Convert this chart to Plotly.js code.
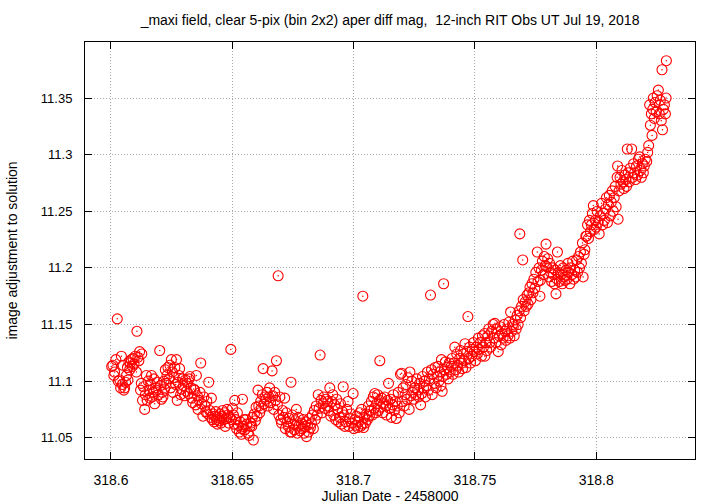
<!DOCTYPE html>
<html>
<head>
<meta charset="utf-8">
<script src="https://cdn.plot.ly/plotly-3.0.1.min.js"></script>
<style>html,body{margin:0;padding:0;background:#fff;}#chart{width:720px;height:504px;}</style>
</head>
<body>
<div id="chart"></div>
<script>
// Julian Date - 2458000
const jd = [
318.6003,318.6008,318.6012,318.6015,318.6020,318.6026,318.6030,318.6036,318.6040,318.6043,318.6047,318.6050,318.6053,318.6056,318.6060,318.6064,318.6068,318.6070,318.6074,318.6077,318.6080,318.6084,318.6088,318.6091,318.6095,318.6100,318.6105,318.6107,318.6111,318.6115,318.6118,318.6122,318.6125,318.6127,
318.6130,318.6134,318.6139,318.6142,318.6146,318.6149,318.6153,318.6157,318.6160,318.6164,318.6167,318.6170,318.6174,318.6177,318.6180,318.6184,318.6187,318.6191,318.6195,318.6201,318.6204,318.6208,318.6211,318.6214,318.6218,318.6221,318.6224,318.6227,318.6231,318.6235,318.6239,
318.6243,318.6246,318.6249,318.6253,318.6256,318.6260,318.6263,318.6267,318.6270,318.6273,318.6276,318.6280,318.6283,318.6287,318.6291,318.6295,318.6299,318.6303,318.6307,318.6311,318.6315,318.6319,318.6322,318.6325,318.6329,318.6333,318.6337,318.6341,318.6345,318.6349,318.6352,318.6356,318.6359,318.6363,318.6367,318.6370,318.6374,318.6379,318.6383,318.6387,318.6391,318.6395,318.6399,318.6403,318.6407,318.6411,318.6414,318.6418,318.6421,
318.6425,318.6428,318.6432,318.6435,318.6439,318.6443,318.6446,318.6450,318.6453,318.6457,318.6460,318.6464,318.6468,318.6471,318.6475,318.6479,318.6482,318.6486,318.6490,318.6494,318.6497,318.6501,318.6505,318.6508,318.6510,318.6514,318.6518,318.6521,318.6525,318.6529,318.6533,318.6537,318.6540,318.6542,318.6545,318.6549,318.6552,318.6556,318.6560,318.6565,318.6569,318.6573,318.6577,318.6580,318.6583,318.6587,318.6591,318.6595,318.6598,318.6602,318.6606,
318.6609,318.6613,318.6617,318.6620,318.6624,318.6627,318.6631,318.6635,318.6639,318.6643,318.6647,318.6651,318.6654,318.6658,318.6664,318.6667,318.6671,318.6675,318.6679,318.6682,318.6686,318.6689,318.6692,318.6696,318.6700,318.6703,318.6707,318.6711,318.6716,318.6719,318.6723,318.6727,318.6731,318.6735,318.6739,318.6742,318.6744,318.6748,318.6752,318.6756,318.6760,318.6764,318.6768,318.6772,318.6776,318.6780,318.6784,318.6788,318.6792,318.6796,318.6800,318.6803,318.6806,318.6810,318.6814,318.6818,318.6822,318.6826,318.6830,318.6834,318.6838,
318.6842,318.6846,318.6850,318.6854,318.6858,318.6862,318.6866,318.6870,318.6874,318.6878,318.6882,318.6886,318.6890,318.6894,318.6898,318.6902,318.6906,318.6910,318.6914,318.6918,318.6922,318.6926,318.6930,318.6934,318.6938,318.6942,318.6946,318.6950,318.6954,318.6957,318.6961,318.6964,318.6968,318.6972,318.6977,318.6981,318.6985,318.6989,318.6993,318.6998,318.7001,318.7005,318.7009,318.7013,318.7017,318.7021,318.7025,318.7029,318.7033,318.7036,
318.7038,318.7041,318.7045,318.7049,318.7053,318.7057,318.7061,318.7065,318.7069,318.7073,318.7077,318.7081,318.7085,318.7087,318.7091,318.7095,318.7099,318.7102,318.7106,318.7108,318.7112,318.7116,318.7120,318.7124,318.7128,318.7132,318.7136,318.7140,318.7144,318.7148,318.7152,318.7156,318.7160,318.7164,318.7168,318.7172,318.7176,318.7180,318.7184,318.7188,318.7193,318.7198,
318.7200,318.7204,318.7208,318.7212,318.7216,318.7220,318.7224,318.7229,318.7232,318.7236,318.7240,318.7244,318.7248,318.7252,318.7256,318.7260,318.7264,318.7268,318.7272,318.7276,318.7280,318.7284,318.7288,318.7292,318.7296,318.7300,318.7304,318.7308,318.7312,318.7317,318.7321,318.7324,318.7328,318.7332,318.7336,318.7340,318.7344,318.7348,318.7352,318.7356,318.7360,318.7362,318.7365,318.7368,318.7371,318.7374,318.7378,318.7382,318.7386,318.7390,318.7394,318.7398,
318.7402,318.7406,318.7410,318.7414,318.7417,318.7421,318.7425,318.7429,318.7433,318.7437,318.7441,318.7445,318.7449,318.7453,318.7457,318.7459,318.7463,318.7467,318.7471,318.7474,318.7478,318.7482,318.7486,318.7490,318.7494,318.7498,318.7502,318.7506,318.7510,318.7514,318.7518,318.7522,318.7527,318.7531,318.7535,318.7540,318.7541,318.7545,318.7549,318.7553,318.7557,318.7561,318.7565,318.7569,318.7575,318.7579,318.7582,318.7586,318.7590,318.7596,318.7600,
318.7604,318.7608,318.7612,318.7616,318.7620,318.7624,318.7628,318.7632,318.7636,318.7640,318.7644,318.7647,318.7651,318.7655,318.7658,318.7662,318.7666,318.7670,318.7674,318.7678,318.7682,318.7685,318.7688,318.7692,318.7697,318.7699,318.7703,318.7707,318.7711,318.7715,318.7719,318.7723,318.7727,318.7731,318.7735,318.7739,318.7743,318.7747,318.7751,318.7757,318.7760,318.7764,318.7768,318.7770,
318.7774,318.7778,318.7782,318.7786,318.7790,318.7793,318.7796,318.7800,318.7804,318.7808,318.7812,318.7816,318.7820,318.7824,318.7828,318.7830,318.7834,318.7838,318.7840,318.7844,318.7848,318.7852,318.7856,318.7860,318.7864,318.7868,318.7871,318.7875,318.7879,318.7883,318.7887,318.7891,318.7895,318.7899,318.7903,318.7907,318.7911,318.7915,318.7919,318.7923,318.7927,318.7931,318.7935,318.7939,318.7943,318.7946,318.7950,318.7953,318.7957,318.7960,318.7964,318.7968,318.7972,
318.7976,318.7980,318.7984,318.7988,318.7992,318.7996,318.8000,318.8004,318.8008,318.8012,318.8016,318.8022,318.8026,318.8030,318.8034,318.8038,318.8042,318.8046,318.8050,318.8054,318.8058,318.8062,318.8066,318.8070,318.8074,318.8078,318.8082,318.8086,318.8088,318.8090,318.8094,318.8098,318.8102,318.8106,318.8110,318.8114,318.8118,318.8122,318.8125,318.8128,
318.8132,318.8136,318.8140,318.8146,318.8150,318.8154,318.8158,318.8162,318.8166,318.8170,318.8174,318.8179,318.8182,318.8186,318.8190,318.8194,318.8198,318.8202,318.8208,318.8212,318.8216,318.8220,318.8223,318.8227,318.8230,318.8233,318.8235,318.8239,318.8243,318.8247,318.8251,318.8256,318.8260,318.8264,318.8268,318.8271,318.8273,318.8277,318.8281,318.8285,318.8288,318.8289
];
// image adjustment to solution (mag)
const mag = [
11.113,11.114,11.105,11.108,11.119,11.155,11.100,11.101,11.094,11.122,11.097,11.114,11.092,11.094,11.099,11.105,11.112,11.101,11.117,11.110,11.116,11.119,11.113,11.120,11.115,11.122,11.108,11.144,11.121,11.118,11.126,11.092,11.098,11.124,
11.083,11.095,11.075,11.088,11.105,11.083,11.100,11.092,11.085,11.097,11.105,11.086,11.090,11.102,11.080,11.094,11.092,11.099,11.088,11.127,11.096,11.084,11.090,11.086,11.100,11.093,11.110,11.098,11.105,11.112,11.102,
11.114,11.094,11.119,11.108,11.090,11.103,11.112,11.097,11.119,11.083,11.099,11.105,11.111,11.088,11.093,11.102,11.096,11.087,11.101,11.091,11.098,11.089,11.102,11.104,11.094,11.085,11.081,11.093,11.092,11.079,11.105,11.087,11.075,11.083,11.090,11.116,11.080,11.069,11.086,11.078,11.073,11.082,11.071,11.099,11.074,11.068,11.085,11.066,11.071,
11.064,11.069,11.073,11.066,11.062,11.068,11.065,11.071,11.063,11.069,11.074,11.066,11.072,11.060,11.067,11.075,11.070,11.063,11.068,11.128,11.066,11.076,11.070,11.062,11.083,11.066,11.058,11.072,11.061,11.055,11.064,11.053,11.058,11.084,11.060,11.066,11.057,11.066,11.062,11.054,11.052,11.060,11.063,11.060,11.068,11.048,11.071,11.065,11.077,11.069,11.092,
11.078,11.072,11.082,11.076,11.088,11.111,11.080,11.086,11.084,11.090,11.078,11.086,11.094,11.081,11.109,11.087,11.075,11.090,11.083,11.118,11.079,11.193,11.070,11.086,11.066,11.063,11.074,11.068,11.085,11.058,11.072,11.064,11.060,11.067,11.055,11.099,11.055,11.070,11.062,11.057,11.065,11.075,11.054,11.068,11.061,11.056,11.063,11.058,11.066,11.054,11.060,11.064,11.051,11.061,11.055,11.067,11.059,11.063,11.070,11.058,11.074,
11.066,11.078,11.070,11.088,11.076,11.123,11.083,11.072,11.080,11.086,11.076,11.084,11.078,11.082,11.074,11.094,11.069,11.082,11.088,11.070,11.079,11.066,11.084,11.075,11.064,11.068,11.080,11.062,11.073,11.095,11.070,11.060,11.064,11.075,11.082,11.060,11.067,11.071,11.063,11.089,11.058,11.066,11.061,11.069,11.059,11.064,11.072,11.060,11.075,11.062,
11.175,11.059,11.068,11.063,11.071,11.066,11.078,11.069,11.074,11.082,11.070,11.086,11.076,11.089,11.072,11.080,11.088,11.074,11.083,11.118,11.077,11.085,11.072,11.080,11.086,11.078,11.070,11.083,11.098,11.076,11.084,11.068,11.079,11.088,11.074,11.082,11.067,11.078,11.090,11.072,11.106,11.107,
11.082,11.094,11.078,11.088,11.097,11.084,11.103,11.075,11.108,11.087,11.100,11.090,11.084,11.094,11.088,11.102,11.092,11.086,11.098,11.079,11.089,11.104,11.094,11.100,11.086,11.096,11.108,11.092,11.102,11.176,11.110,11.088,11.106,11.098,11.112,11.094,11.104,11.113,11.100,11.108,11.096,11.119,11.091,11.104,11.186,11.110,11.117,11.106,11.112,11.102,11.116,11.108,
11.113,11.120,11.106,11.116,11.130,11.110,11.124,11.114,11.108,11.120,11.127,11.116,11.111,11.124,11.118,11.133,11.112,11.126,11.157,11.120,11.130,11.116,11.122,11.128,11.134,11.126,11.118,11.130,11.124,11.138,11.128,11.134,11.122,11.140,11.130,11.142,11.122,11.134,11.127,11.140,11.146,11.134,11.130,11.144,11.150,11.138,11.151,11.134,11.146,11.126,11.140,
11.148,11.132,11.142,11.138,11.150,11.144,11.136,11.146,11.140,11.152,11.138,11.161,11.144,11.150,11.148,11.140,11.154,11.146,11.158,11.150,11.162,11.230,11.156,11.166,11.207,11.172,11.162,11.170,11.166,11.176,11.168,11.178,11.183,11.172,11.186,11.178,11.190,11.182,11.196,11.214,11.188,11.200,11.175,11.189,
11.198,11.206,11.194,11.210,11.202,11.221,11.201,11.208,11.192,11.204,11.196,11.188,11.200,11.194,11.186,11.198,11.177,11.190,11.214,11.196,11.188,11.202,11.194,11.186,11.200,11.192,11.189,11.198,11.190,11.204,11.196,11.186,11.200,11.194,11.206,11.190,11.198,11.192,11.207,11.196,11.210,11.200,11.214,11.204,11.222,11.192,11.212,11.216,11.228,11.228,11.238,11.226,11.242,
11.232,11.238,11.248,11.255,11.234,11.242,11.236,11.250,11.240,11.230,11.246,11.257,11.238,11.248,11.242,11.252,11.262,11.240,11.256,11.264,11.246,11.258,11.268,11.250,11.262,11.272,11.254,11.280,11.290,11.243,11.268,11.280,11.274,11.286,11.276,11.270,11.282,11.278,11.272,11.305,
11.284,11.276,11.288,11.305,11.280,11.292,11.284,11.278,11.290,11.282,11.296,11.298,11.286,11.280,11.292,11.284,11.290,11.296,11.294,11.302,11.308,11.344,11.326,11.336,11.317,11.340,11.350,11.332,11.346,11.338,11.352,11.357,11.336,11.348,11.330,11.375,11.322,11.340,11.344,11.336,11.350,11.383
];
const xTicks = [318.6, 318.65, 318.7, 318.75, 318.8];
const xTickLabels = ["318.6", "318.65", "318.7", "318.75", "318.8"];
const yTicks = [11.05, 11.1, 11.15, 11.2, 11.25, 11.3, 11.35];
const yTickLabels = ["11.05", "11.1", "11.15", "11.2", "11.25", "11.3", "11.35"];
const titleText = "_maxi field, clear 5-pix (bin 2x2) aper diff mag,  12-inch RIT Obs UT Jul 19, 2018";
const xTitle = "Julian Date - 2458000";
const yTitle = "image adjustment to solution";

const FONT = "Liberation Sans, Arial, Helvetica, sans-serif";

const traces = [
  {
    x: jd, y: mag, type: "scatter", mode: "markers",
    marker: {symbol: "circle-open", size: 10, color: "#ff0000", line: {width: 1.1, color: "#ff0000"}},
    hoverinfo: "skip", showlegend: false
  },
  {
    x: jd, y: mag, type: "scatter", mode: "markers",
    marker: {symbol: "circle", size: 1.5, color: "#ff0000", line: {width: 0}},
    hoverinfo: "skip", showlegend: false
  }
];

const axisCommon = {
  showline: true, linecolor: "#000", linewidth: 1, mirror: "ticks",
  ticks: "inside", ticklen: 7, tickcolor: "#000", tickwidth: 1,
  showgrid: true, gridcolor: "#a8a8a8", gridwidth: 1, griddash: "1px,2px",
  zeroline: false
};

const layout = {
  width: 720, height: 504,
  paper_bgcolor: "#fff", plot_bgcolor: "#fff",
  margin: {l: 85, r: 25, t: 42, b: 45},
  font: {family: FONT, size: 13, color: "#000"},
  title: {text: titleText, font: {family: FONT, size: 14, color: "#000"},
          x: 0.5417, xref: "container", xanchor: "center", y: 1 - 20/504, yref: "container", yanchor: "middle"},
  xaxis: Object.assign({}, axisCommon, {
    range: [318.5893, 318.8407], tickvals: xTicks, ticktext: xTickLabels,
    tickfont: {family: FONT, size: 14, color: "#000"}, ticklabelstandoff: 8,
    title: {text: xTitle, font: {family: FONT, size: 14, color: "#000"}, standoff: 1}
  }),
  yaxis: Object.assign({}, axisCommon, {
    range: [11.0312, 11.3995], tickvals: yTicks, ticktext: yTickLabels,
    tickfont: {family: FONT, size: 13, color: "#000"}, ticklabelstandoff: 9,
    title: {text: yTitle, font: {family: FONT, size: 14, color: "#000"}, standoff: 19}
  }),
  showlegend: false
};

Plotly.newPlot("chart", traces, layout, {staticPlot: true, displayModeBar: false});
</script>
</body>
</html>
